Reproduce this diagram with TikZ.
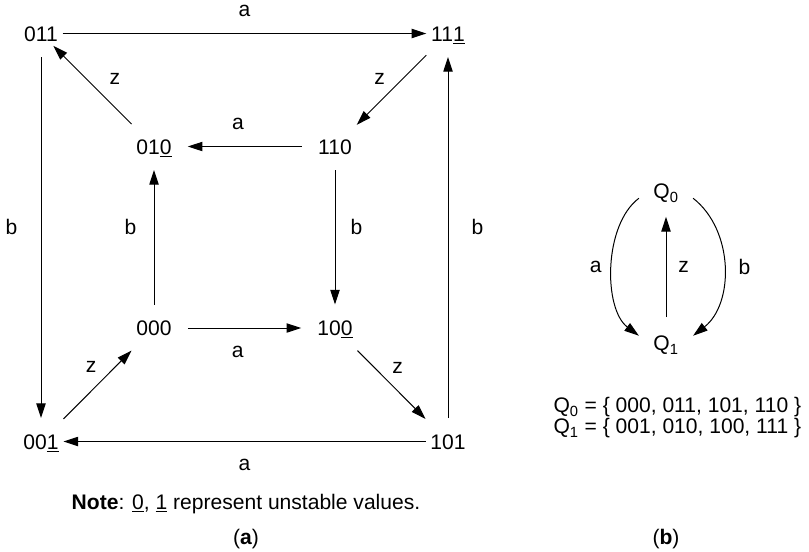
\documentclass[tikz,border=0pt]{standalone}
\usepackage{fontspec}
\setmainfont{Liberation Sans}
\usetikzlibrary{arrows.meta}

\begin{document}
\begin{tikzpicture}[x=0.75pt, y=0.75pt, >={Triangle[length=11pt,width=7pt]},
        line width=0.75pt, font=\fontsize{15.8}{15.75}\selectfont,
        trangthai/.style={inner xsep=3.3pt, inner ysep=11.6pt, text height=11.3pt, text depth=0pt},
        qnut/.style={inner xsep=10.5pt, inner ysep=9.35pt, text height=11.3pt, text depth=0pt},
        nhan/.style={inner sep=2pt}]
        \useasboundingbox (0,0) rectangle (809,-551);

        % Các trạng thái (a)
        \node[trangthai] (s011) at (41,-33.5) {011};
        \node[trangthai] (s111) at (448,-33.5) {11\underline{1}};
        \node[trangthai] (s010) at (154,-146.5) {01\underline{0}};
        \node[trangthai] (s110) at (335,-146.5) {110};
        \node[trangthai] (s000) at (154,-328) {000};
        \node[trangthai] (s100) at (335,-328) {10\underline{0}};
        \node[trangthai] (s001) at (41,-441.5) {00\underline{1}};
        \node[trangthai] (s101) at (448,-441.5) {101};

        % Vòng ngoài
        \draw[->] (s011) -- node[nhan, above=10pt] {a} (s111);
        \draw[->] (s011) -- node[nhan, pos=0.47, left=15.4pt] {b} (s001);
        \draw[->] (s101) -- node[nhan, below=11pt] {a} (s001);
        \draw[->] (s101) -- node[nhan, pos=0.53, right=15.4pt] {b} (s111);

        % Vòng trong
        \draw[->, shorten <=8.5pt, shorten >=8.5pt] (s110) -- node[nhan, pos=0.55, above=10pt] {a} (s010);
        \draw[->, shorten <=8.5pt, shorten >=8.5pt] (s000) -- node[nhan, pos=0.45, below=11pt] {a} (s100);
        \draw[->] (s000) -- node[nhan, pos=0.58, left=10.9pt] {b} (s010);
        \draw[->] (s110) -- node[nhan, pos=0.42, right=9.4pt] {b} (s100);

        % Các cạnh chéo z
        \draw[->, shorten >=-10pt] (s010) -- node[nhan, pos=0.45, above right=4.4pt] {z} (s011);
        \draw[->] (s111) -- node[nhan, pos=0.51, above left=2.1pt] {z} (s110);
        \draw[->] (s001) -- node[nhan, pos=0.58, above left=2.5pt] {z} (s000);
        \draw[->] (s100) -- node[nhan, pos=0.42, above right=2.3pt] {z} (s101);

        % Ghi chú
        \node[anchor=base] (ghichu) at (246,-509.5) {\textbf{Note}: \underline{0}, \underline{1} represent unstable values.};
        \node[anchor=base] (chua) at (246,-544) {(\textbf{a})};

        % Máy rút gọn (b)
        \node[qnut] (q0) at (666,-191) {Q\textsubscript{0}};
        \node[qnut] (q1) at (666,-343) {Q\textsubscript{1}};
        \draw[->] (q0.195) to[out=217, in=143, looseness=0.83] node[nhan, left=5.7pt] {a} (q1.165);
        \draw[->] (q0.-15) to[out=-38, in=38, looseness=0.97] node[nhan, right=8.7pt] {b} (q1.15);
        \draw[->, shorten <=4pt, shorten >=4pt] (q1) -- node[nhan, right=6.9pt] {z} (q0);

        \node[anchor=west, align=left, inner sep=0pt] (tapq) at (553,-418)
            {Q\textsubscript{0} = \{ 000, 011, 101, 110 \}\\Q\textsubscript{1} = \{ 001, 010, 100, 111 \}};
        \node[anchor=base] (chub) at (666,-544) {(\textbf{b})};
    \end{tikzpicture}
\end{document}
